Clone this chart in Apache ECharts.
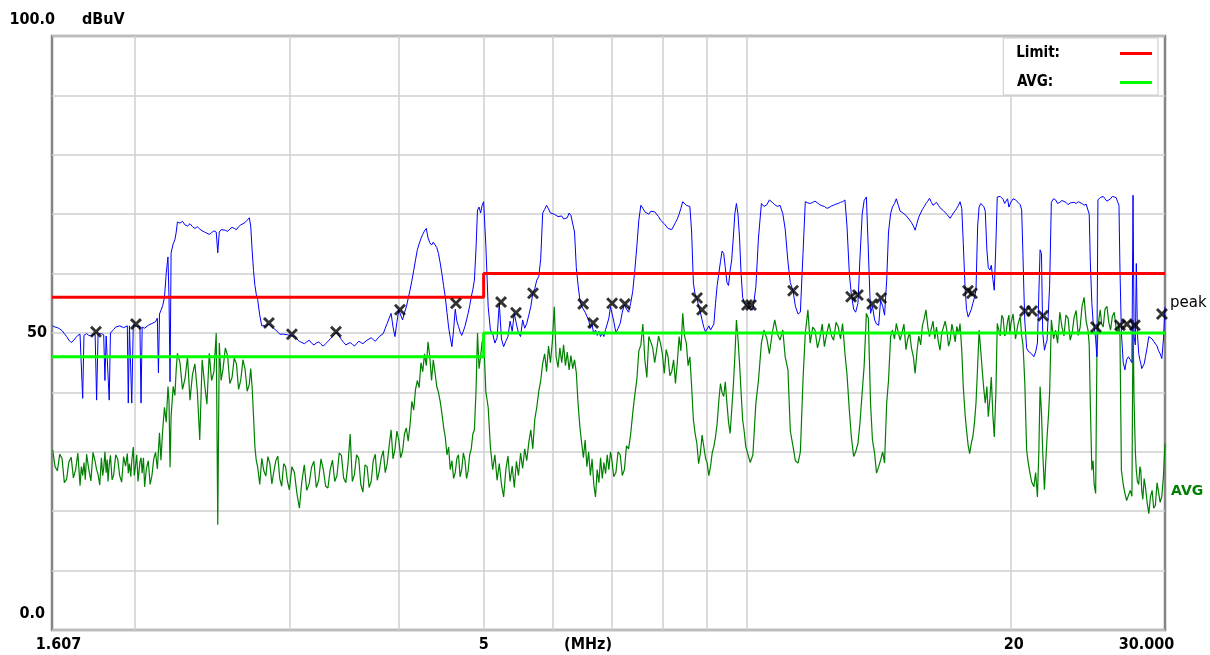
<!DOCTYPE html>
<html><head><meta charset="utf-8">
<script src="https://cdn.jsdelivr.net/npm/echarts@6/dist/echarts.min.js"></script>
<style>html,body{margin:0;padding:0;background:#fff}#c{width:1210px;height:655px}</style>
</head><body><div id="c"></div><script>
// sweep frequencies (MHz)
const freqMHz = [
// 1.6 - 3.0 MHz
1.61,1.62,1.63,1.64,1.65,1.66,1.67,1.68,1.69,1.70,
1.71,1.72,1.73,1.736,1.742,1.748,1.754,1.76,1.77,1.78,
1.79,1.80,1.807,1.814,1.822,1.83,1.836,1.841,1.847,1.853,
1.858,1.862,1.868,1.874,1.882,1.89,1.90,1.91,1.92,1.93,
1.94,1.95,1.959,1.964,1.97,1.977,1.982,1.99,1.995,2.00,
2.008,2.015,2.025,2.031,2.037,2.044,2.05,2.06,2.07,2.08,
2.09,2.10,2.11,2.12,2.126,2.132,2.14,2.15,2.16,2.17,
2.18,2.186,2.192,2.198,2.21,2.22,2.228,2.235,2.25,2.265,
2.28,2.295,2.31,2.325,2.34,2.355,2.37,2.385,2.40,2.415,
2.43,2.445,2.46,2.475,2.485,2.495,2.507,2.52,2.535,2.55,
2.565,2.58,2.595,2.61,2.625,2.64,2.655,2.67,2.685,2.70,
2.71,2.72,2.73,2.74,2.75,2.76,2.775,2.79,2.805,2.82,
2.835,2.85,2.865,2.88,2.895,2.91,2.925,2.94,2.955,2.97,
2.985,
// 3.0 - 5.0 MHz
3.00,3.02,3.04,3.06,3.08,3.10,3.12,3.14,3.16,3.18,
3.20,3.22,3.24,3.26,3.28,3.30,3.32,3.34,3.36,3.38,
3.40,3.42,3.44,3.46,3.48,3.50,3.52,3.54,3.56,3.58,
3.60,3.62,3.64,3.66,3.68,3.70,3.72,3.74,3.76,3.78,
3.80,3.82,3.84,3.86,3.88,3.90,3.92,3.94,3.96,3.98,
4.00,4.02,4.04,4.06,4.08,4.10,4.12,4.14,4.16,4.18,
4.20,4.22,4.24,4.26,4.28,4.30,4.32,4.34,4.36,4.38,
4.40,4.42,4.44,4.46,4.48,4.50,4.52,4.54,4.56,4.58,
4.60,4.62,4.64,4.66,4.68,4.70,4.72,4.74,4.76,4.78,
4.80,4.82,4.84,4.86,4.88,4.90,4.92,4.94,4.96,4.98,
// 5.0 - 7.0 MHz
5.00,5.03,5.06,5.09,5.12,5.15,5.18,5.21,5.24,5.27,
5.30,5.33,5.36,5.39,5.42,5.45,5.48,5.51,5.54,5.57,
5.60,5.63,5.66,5.69,5.72,5.75,5.78,5.81,5.84,5.87,
5.90,5.93,5.96,5.99,6.02,6.05,6.08,6.11,6.14,6.17,
6.20,6.23,6.26,6.29,6.32,6.35,6.38,6.41,6.44,6.47,
6.50,6.53,6.56,6.59,6.62,6.65,6.68,6.71,6.74,6.77,
6.80,6.83,6.86,6.89,6.92,6.95,6.98,
// 7.0 - 10 MHz
7.00,7.04,7.08,7.12,7.16,7.20,7.24,7.28,7.32,7.36,
7.40,7.44,7.48,7.52,7.56,7.60,7.64,7.68,7.72,7.76,
7.80,7.84,7.88,7.92,7.96,8.00,8.04,8.08,8.12,8.16,
8.20,8.24,8.28,8.32,8.36,8.40,8.44,8.48,8.52,8.56,
8.60,8.64,8.68,8.72,8.76,8.80,8.84,8.88,8.92,8.96,
9.00,9.04,9.08,9.12,9.16,9.20,9.24,9.28,9.32,9.36,
9.40,9.44,9.48,9.52,9.56,9.60,9.64,9.68,9.72,9.76,
9.80,9.84,9.88,9.92,9.96,
// 10 - 20 MHz
10.00,10.08,10.15,10.23,10.30,10.38,10.45,10.53,10.60,10.68,
10.75,10.83,10.90,10.98,11.05,11.13,11.20,11.28,11.35,11.43,
11.50,11.58,11.65,11.73,11.80,11.88,11.95,12.03,12.10,12.18,
12.25,12.33,12.40,12.48,12.55,12.63,12.70,12.78,12.85,12.93,
13.00,13.08,13.15,13.23,13.30,13.38,13.45,13.53,13.60,13.68,
13.75,13.83,13.90,13.98,14.05,14.13,14.20,14.28,14.35,14.43,
14.50,14.58,14.65,14.73,14.80,14.88,14.95,15.03,15.10,15.18,
15.25,15.33,15.40,15.48,15.55,15.63,15.70,15.78,15.85,15.93,
16.00,16.08,16.15,16.23,16.30,16.38,16.45,16.53,16.60,16.68,
16.75,16.83,16.90,16.98,17.05,17.13,17.20,17.28,17.35,17.43,
17.50,17.58,17.65,17.73,17.80,17.88,17.95,18.03,18.10,18.18,
18.25,18.33,18.40,18.48,18.55,18.63,18.70,18.78,18.85,18.93,
19.00,19.08,19.15,19.23,19.30,19.38,19.45,19.53,19.60,19.68,
19.75,19.83,19.90,19.95,
// 20 - 30 MHz
20.00,20.12,20.25,20.38,20.50,20.58,20.65,20.70,20.75,20.85,
20.92,21.00,21.12,21.25,21.35,21.45,21.53,21.60,21.68,21.75,
21.85,21.92,22.00,22.08,22.15,22.25,22.38,22.50,22.62,22.75,
22.88,23.00,23.12,23.25,23.38,23.50,23.62,23.75,23.88,24.00,
24.12,24.25,24.38,24.50,24.58,24.65,24.75,24.83,24.90,25.00,
25.08,25.15,25.22,25.30,25.40,25.50,25.62,25.75,25.88,26.00,
26.12,26.25,26.38,26.50,26.58,26.65,26.75,26.88,27.00,27.12,
27.25,27.38,27.50,27.58,27.66,27.75,27.82,27.90,28.00,28.08,
28.15,28.22,28.30,28.40,28.50,28.62,28.75,28.88,29.00,29.12,
29.25,29.38,29.50,29.62,29.75,29.88,30.00
];
// peak detector trace (dBuV)
const peakDb = [
51.2,51.0,50.9,50.7,50.4,49.9,49.4,48.8,48.4,48.7,
49.2,49.6,49.8,49.7,39.0,49.6,49.8,49.9,49.6,49.5,
49.7,49.8,38.7,49.8,50.0,49.9,49.8,49.7,42.0,49.5,
49.7,49.6,38.7,50.0,50.3,50.6,51.0,51.3,51.2,51.1,
50.9,51.0,51.2,38.2,51.2,51.0,38.2,51.4,51.3,51.2,
51.1,51.0,51.1,38.2,51.0,50.9,50.8,51.0,51.3,51.4,
51.6,51.7,51.9,52.5,43.3,53.2,53.8,54.6,56.0,60.0,
62.8,56.0,41.8,63.5,65.0,65.7,67.0,68.7,68.5,68.8,
68.2,68.0,68.4,67.9,67.6,67.9,67.5,67.2,67.0,66.8,
66.6,66.9,67.2,67.0,63.5,67.0,67.4,67.6,67.3,67.1,
67.5,67.8,67.6,67.4,67.9,68.2,68.4,68.6,69.0,69.4,
68.0,64.0,60.5,58.0,56.5,55.6,53.0,51.2,51.3,51.0,
51.5,51.4,51.0,50.8,50.5,50.2,49.8,49.6,49.8,49.9,
49.7,
49.6,49.5,49.4,49.0,48.6,48.4,48.2,48.5,48.8,48.3,
48.0,48.3,48.5,48.1,47.8,48.2,48.6,49.0,49.4,49.8,
50.1,49.5,48.9,48.4,48.0,48.2,48.4,48.1,47.8,48.2,
48.6,48.4,48.2,48.5,48.8,49.0,49.2,48.9,48.6,49.0,
49.4,49.6,49.9,50.8,51.6,52.5,53.3,51.0,49.4,51.8,
53.9,53.0,52.2,53.4,54.4,55.8,57.2,58.8,60.5,62.3,
64.0,65.0,65.9,66.6,67.2,67.6,66.0,65.2,64.8,65.3,
65.1,64.4,63.4,61.8,60.0,58.0,56.1,53.5,51.0,49.2,
47.7,50.5,54.0,52.0,51.1,50.2,49.6,50.3,51.1,52.2,
53.3,54.6,56.1,57.3,58.9,64.0,70.7,71.2,70.2,71.5,
72.1,64.5,54.4,50.5,49.9,48.3,49.2,55.0,49.0,47.7,
48.6,49.4,52.0,50.3,53.3,51.5,50.0,49.4,52.2,50.8,
51.6,53.0,54.4,56.7,57.5,58.9,59.5,62.5,70.2,70.8,
71.5,70.9,70.2,70.5,70.0,69.8,69.6,69.3,69.7,69.2,
68.9,69.4,70.2,69.8,69.6,67.0,61.0,58.0,55.6,54.5,
54.2,53.5,52.8,52.2,50.8,51.4,49.8,50.5,49.6,50.3,
49.4,50.0,49.4,50.6,51.5,52.5,54.4,
54.6,52.0,50.0,50.8,51.6,53.5,54.8,54.0,53.5,55.0,
57.0,60.5,64.5,69.0,71.5,71.0,70.4,70.1,70.0,70.5,
70.7,70.4,70.2,69.6,69.0,68.7,68.4,68.0,67.6,67.3,
67.4,68.0,68.6,69.2,70.0,71.0,72.1,71.8,71.5,71.4,
71.3,67.0,58.4,56.5,55.8,54.6,53.5,52.2,51.0,50.2,
50.5,51.2,50.5,50.8,51.5,55.0,58.0,60.0,62.0,63.8,
63.4,61.0,58.5,58.0,60.5,62.3,66.0,70.1,71.8,70.0,
66.0,60.0,56.0,55.2,54.7,
54.7,54.0,53.9,57.8,66.0,71.8,71.3,71.6,72.4,72.0,
71.6,71.3,71.5,70.1,67.5,62.0,58.5,57.1,54.5,53.2,
53.5,63.4,72.1,71.9,71.8,72.0,72.2,71.9,71.6,71.4,
71.3,71.0,71.1,71.4,71.5,71.7,71.8,72.0,72.1,72.4,
68.0,60.0,56.5,54.0,53.5,55.0,62.5,70.0,72.3,72.9,
64.0,53.3,54.5,52.2,51.5,51.3,55.5,54.5,53.0,58.9,
67.0,70.1,71.2,71.8,72.6,71.5,70.5,70.3,70.0,69.8,
69.6,69.0,68.6,68.0,67.3,68.5,69.5,70.2,70.8,71.3,
71.8,72.2,72.7,72.0,71.5,71.8,72.0,71.5,71.1,70.8,
70.6,70.3,70.0,69.7,69.3,69.8,70.2,70.6,71.0,71.5,
72.1,71.0,65.1,58.0,54.0,52.7,53.0,54.0,55.0,56.0,
57.2,68.0,71.2,71.8,71.8,71.3,70.5,64.0,61.0,60.6,
61.4,59.0,57.2,65.0,72.9,73.2,73.0,72.7,72.5,71.8,
72.2,72.6,71.2,71.6,
72.0,72.6,72.4,72.0,71.6,70.7,63.0,57.0,52.0,47.5,
47.0,47.1,46.5,46.0,46.8,48.3,48.0,64.0,63.4,50.0,
47.1,48.0,48.8,49.0,58.0,72.0,72.6,72.4,71.8,72.0,
72.3,72.6,72.0,71.6,71.9,72.2,72.0,71.8,72.1,72.4,
71.8,71.5,71.7,71.9,70.0,62.0,55.0,52.0,51.1,49.0,
46.0,72.4,72.6,72.8,72.5,73.0,72.6,72.2,72.4,72.6,
73.0,73.2,72.8,72.0,71.5,60.6,50.0,45.0,43.8,45.5,
46.0,45.5,45.0,73.2,49.4,48.0,61.7,50.0,46.5,45.5,
44.9,44.0,43.8,44.8,46.0,47.5,49.4,49.5,49.0,48.6,
48.3,47.8,47.0,46.5,45.7,49.0,54.4
];
// average detector trace (dBuV)
const avgDb = [
30.3,27.5,26.8,29.6,28.9,24.8,25.4,28.3,29.1,25.6,
27.0,29.8,24.3,27.5,26.0,28.2,25.3,29.6,27.1,25.1,
29.9,28.4,27.0,26.2,24.4,29.0,26.0,27.2,30.0,26.5,
28.7,25.0,27.8,29.4,25.3,26.1,29.5,28.8,26.0,24.9,
29.2,27.6,29.7,26.4,28.0,25.8,28.5,30.8,26.0,27.2,
29.5,25.0,28.3,29.0,26.4,29.0,24.1,27.2,28.5,24.5,
26.0,28.8,29.9,27.1,30.2,33.2,28.6,33.7,37.5,35.0,
41.0,38.5,27.4,36.0,41.0,39.5,44.0,46.6,45.0,40.5,
42.3,46.0,38.7,43.0,44.8,40.2,32.0,45.5,41.5,38.0,
46.6,42.0,43.5,50.0,17.7,48.3,42.0,44.0,47.5,46.2,
41.5,42.5,45.8,44.8,40.5,42.1,45.5,43.9,40.2,41.4,
44.0,40.9,36.0,30.8,28.5,27.4,24.5,28.9,26.8,25.9,
29.2,28.0,24.6,26.7,28.5,29.3,25.5,24.2,28.0,27.5,
25.0,
23.6,27.5,26.5,23.0,20.5,25.0,27.8,23.5,24.6,27.4,
28.4,24.0,25.2,28.8,27.0,24.2,23.9,27.0,28.6,25.0,
26.0,29.8,29.4,25.6,24.8,28.0,33.0,25.0,26.2,29.5,
28.9,24.5,23.2,27.8,27.5,24.0,25.0,28.5,29.6,25.2,
26.8,29.0,30.2,26.5,28.0,31.0,33.7,28.8,30.4,33.5,
32.0,29.0,30.1,33.0,34.0,31.8,34.5,38.5,37.0,40.5,
42.0,40.8,45.0,43.5,46.5,44.5,48.5,46.0,42.0,45.5,
43.3,41.0,40.0,38.5,36.5,34.2,32.5,29.5,30.8,27.0,
28.5,25.5,26.5,28.9,29.5,25.8,27.0,29.8,28.6,25.5,
26.8,29.5,30.5,33.0,33.7,40.0,50.0,44.0,46.0,48.5,
49.3,40.0,37.5,30.8,27.0,29.5,25.2,28.0,24.5,22.4,
26.9,29.3,25.0,27.6,24.0,28.4,26.0,29.8,27.2,30.5,
28.5,31.5,33.7,30.5,35.5,37.5,40.2,42.0,44.9,46.5,
43.5,47.8,45.0,48.5,54.4,46.0,44.2,47.5,45.0,48.0,
44.5,46.8,43.8,46.2,44.0,45.5,43.3,38.0,34.2,31.5,
29.0,32.0,27.5,30.0,26.0,28.8,24.5,22.4,27.0,24.8,
29.0,25.5,28.2,26.3,29.5,27.0,30.0,
29.0,25.8,26.5,30.0,29.5,26.0,27.0,31.0,30.5,33.0,
36.5,39.5,42.1,47.0,48.0,51.5,45.5,42.5,49.4,48.5,
47.5,45.0,47.1,49.5,48.3,46.5,43.2,47.2,46.0,42.8,
43.5,45.5,41.5,45.0,49.4,47.0,53.3,49.5,48.3,44.5,
46.0,41.0,35.4,33.0,31.4,28.0,29.7,32.8,32.5,29.0,
28.1,26.0,27.5,29.8,30.9,32.5,34.8,38.5,41.5,40.0,
39.3,41.8,38.2,35.0,33.1,37.0,41.0,46.0,52.2,49.0,
44.9,40.0,35.4,33.5,30.9,
30.9,28.2,29.5,38.2,42.0,48.3,50.5,49.0,46.5,50.0,
52.2,49.8,48.8,50.5,46.0,43.8,33.5,30.9,28.5,28.1,
30.0,42.1,50.0,53.9,48.3,51.0,50.5,47.5,49.0,51.5,
47.7,50.0,51.6,49.5,48.8,51.8,51.1,49.0,51.6,46.6,
43.0,37.0,32.5,29.2,30.0,31.4,34.8,40.0,44.5,53.3,
52.5,38.2,32.0,29.7,26.4,27.5,28.6,30.0,28.1,38.2,
42.0,49.4,50.5,49.0,51.6,50.0,48.8,50.2,51.5,47.2,
49.0,50.0,47.5,46.0,43.2,47.0,49.5,48.0,51.2,52.5,
53.9,51.0,49.4,50.8,52.0,49.0,51.0,48.5,47.1,50.0,
49.8,52.0,50.5,47.8,48.8,51.5,50.2,48.5,51.1,49.8,
51.6,47.0,41.0,36.5,33.7,31.0,29.7,31.5,32.5,35.0,
38.2,44.5,50.5,47.0,43.8,40.5,38.2,41.0,35.9,39.0,
42.6,36.0,32.5,40.0,51.6,50.5,49.5,53.0,52.5,49.5,
50.0,52.0,53.0,49.8,
51.5,53.2,49.0,51.5,52.8,49.5,48.0,45.0,41.5,30.3,
28.5,27.0,25.0,24.1,26.5,22.4,30.0,41.0,36.5,30.0,
23.6,28.0,32.5,36.0,40.0,52.2,49.0,50.5,48.3,53.5,
51.0,49.5,53.0,52.5,48.8,50.0,52.6,53.8,49.6,51.0,
54.5,56.0,52.0,50.5,48.0,38.2,26.9,28.5,24.5,23.0,
46.0,50.5,52.5,53.9,51.5,51.0,54.0,54.5,51.8,50.5,
52.8,53.5,50.8,50.0,51.5,49.4,26.9,24.5,23.0,21.8,
21.5,23.5,22.5,52.2,38.2,30.0,26.9,25.0,24.5,27.5,
26.9,23.5,22.0,25.5,24.0,21.5,19.6,22.5,23.5,20.5,
21.0,24.8,25.0,21.5,22.5,26.0,31.4
];
// limit lines
const limitFreq = [1.607, 5, 5, 30];
const limitQP  = [56, 56, 60, 60];
const limitAVG = [46, 46, 50, 50];
// marked peaks
const markFreq = [1.804,2.004,2.843,3.020,3.391,4.012,4.649,5.234,5.444,5.693,6.496,6.668,7.010,7.249,8.764,8.880,9.994,10.10,11.28,13.14,13.38,13.89,14.22,17.87,18.06,20.76,21.15,21.77,25.02,26.65,27.14,27.72,29.76];
const markDb   = [50.2,51.5,51.7,49.8,50.2,53.9,55.0,55.2,53.4,56.7,54.9,51.7,55.0,54.9,55.9,53.9,54.7,54.7,57.1,56.1,56.4,54.9,55.9,57.1,56.7,53.7,53.7,52.9,51.0,51.3,51.5,51.3,53.2];
// axis grid and tick labels
const gridFreq = [2,3,4,5,6,7,8,9,10,20];
const xTickFreq = [1.607, 5, 20, 30];
const xTickText = ['1.607', '5', '20', '30.000'];
const yTickVals = [50];

const zip = (xs, ys) => xs.map((x, i) => [x, ys[i]]);
const FONT = "'DejaVu Sans Condensed','DejaVu Sans',sans-serif";
const chart = echarts.init(document.getElementById('c'), null, {renderer: 'canvas'});
const XSYM = 'path://M0,1.7L1.7,0L5,3.3L8.3,0L10,1.7L6.7,5L10,8.3L8.3,10L5,6.7L1.7,10L0,8.3L3.3,5Z';
const LEGEND_ICON = 'path://M0,1.5L0,1.5M55,0L87,0L87,3L55,3Z';

chart.setOption({
  animation: false,
  backgroundColor: '#ffffff',
  grid: {left: 52, right: 45, top: 36, bottom: 25, show: true, borderColor: '#858585', borderWidth: 2.5, backgroundColor: 'transparent'},
  xAxis: {
    type: 'log', logBase: 10, min: 1.607, max: 30,
    axisLine: {show: false}, axisTick: {show: false}, axisLabel: {show: false},
    splitLine: {show: false}, minorTick: {show: false}, minorSplitLine: {show: false}
  },
  yAxis: {
    type: 'value', min: 0, max: 100, interval: 10,
    axisLine: {show: false}, axisTick: {show: false},
    splitLine: {show: true, lineStyle: {color: '#cfcfcf', width: 1.5}},
    axisLabel: {customValues: yTickVals, margin: 5, color: '#000', fontFamily: FONT, fontWeight: 'bold', fontSize: 16}
  },
  legend: {
    right: 52, top: 38, orient: 'vertical', align: 'right',
    selectedMode: false, icon: LEGEND_ICON, itemWidth: 87, itemHeight: 3, itemGap: 14,
    padding: [8, 6, 5, 13], borderColor: '#c8c8c8', borderWidth: 1, backgroundColor: '#fff',
    data: ['Limit:', 'AVG:'],
    formatter: n => (n === 'AVG:' ? n + '\u2002' : n),
    textStyle: {color: '#000', fontFamily: FONT, fontWeight: 'bold', fontSize: 15}
  },
  series: [
    {name: 'grid', type: 'line', data: [], silent: true,
     markLine: {silent: true, z: 1, symbol: ['none', 'none'], label: {show: false},
       lineStyle: {color: '#cfcfcf', width: 1.5, type: 'solid'},
       emphasis: {disabled: true},
       data: gridFreq.map(f => ({xAxis: f}))}},
    {name: 'AVG', type: 'line', data: zip(freqMHz, avgDb), showSymbol: false, symbol: 'none', z: 2,
     lineStyle: {color: '#008000', width: 1.2}, itemStyle: {color: '#008000'},
     endLabel: {show: true, formatter: 'AVG', color: '#008000', fontFamily: "'DejaVu Sans',sans-serif", fontWeight: 'bold', fontSize: 14, distance: 6, offset: [0, 48]}},
    {name: 'peak', type: 'line', data: zip(freqMHz, peakDb), showSymbol: false, symbol: 'none', z: 3,
     lineStyle: {color: '#0000ff', width: 1}, itemStyle: {color: '#0000ff'},
     endLabel: {show: true, formatter: 'peak', color: '#000', fontFamily: "'DejaVu Sans',sans-serif", fontSize: 15, distance: 5, offset: [0, -4]}},
    {name: 'Limit:', type: 'line', data: zip(limitFreq, limitQP), showSymbol: false, symbol: 'none', z: 4,
     lineStyle: {color: '#ff0000', width: 3}, itemStyle: {color: '#ff0000'}},
    {name: 'AVG:', type: 'line', data: zip(limitFreq, limitAVG), showSymbol: false, symbol: 'none', z: 4,
     lineStyle: {color: '#00ff00', width: 3}, itemStyle: {color: '#00ff00'}},
    {name: 'marks', type: 'scatter', data: zip(markFreq, markDb), symbol: XSYM, symbolSize: 12, z: 6,
     itemStyle: {color: '#000'}}
  ]
});

const xPix = f => chart.convertToPixel({xAxisIndex: 0}, f);
const nudge = [6.5, 0, 3, -18.5];
const txt = (x, y, text, align) => ({type: 'text', x: x, y: y, silent: true,
  style: {text: text, fill: '#000', fontFamily: FONT, fontWeight: 'bold', fontSize: 16, align: align, verticalAlign: 'middle'}});
const gfx = xTickFreq.map((f, i) => txt(xPix(f) + nudge[i], 645, xTickText[i], 'center'));
gfx.push(txt(588, 645, '(MHz)', 'center'));
gfx.push(txt(55, 19.5, '100.0', 'right'));
gfx.push(txt(82, 19.5, 'dBuV', 'left'));
gfx.push(txt(45, 614, '0.0', 'right'));
chart.setOption({graphic: gfx});
</script></body></html>
